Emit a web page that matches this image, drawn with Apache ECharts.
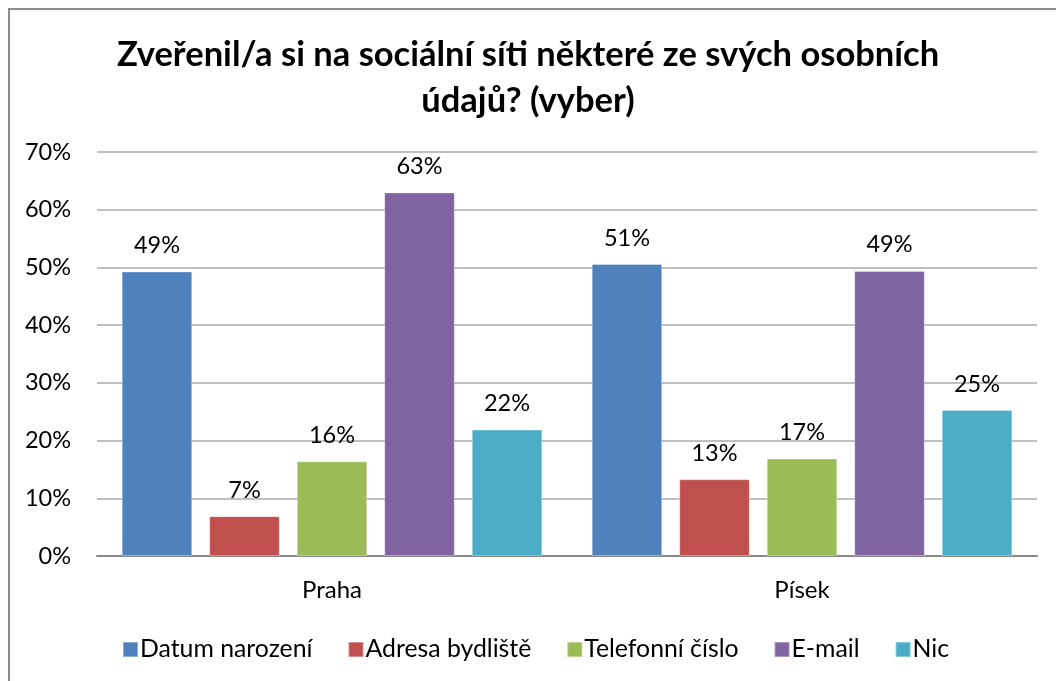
<!DOCTYPE html>
<html>
<head>
<meta charset="utf-8">
<script src="https://cdn.jsdelivr.net/npm/echarts@6/dist/echarts.min.js"></script>
<style>
  body { margin: 0; background: #fff; }
  #chart { position: absolute; left: 0; top: 0; width: 1056px; height: 681px; }
  #frame { position: absolute; left: 8px; top: 8px; width: 1100px; height: 700px;
           border-left: 2px solid #8c8c8c; border-top: 2px solid #8c8c8c; pointer-events: none; }
</style>
</head>
<body>
<div id="chart"></div>
<div id="frame"></div>
<script>
// kategorie a hodnoty (v %)
const categories = ["Praha", "Písek"];
const seriesNames = ["Datum narození", "Adresa bydliště", "Telefonní číslo", "E-mail", "Nic"];
const datumNarozeni = [49.3, 50.6];
const adresaBydliste = [6.9, 13.3];
const telefonniCislo = [16.4, 16.9];
const email = [63.0, 49.4];
const nic = [21.9, 25.3];
const yTicks = [0, 10, 20, 30, 40, 50, 60, 70];

const colors = ["#4F81BD", "#C0504D", "#9BBB59", "#8064A2", "#4BACC6"];
const font = "Lato, 'Open Sans', sans-serif";

const values = [datumNarozeni, adresaBydliste, telefonniCislo, email, nic];

const chart = echarts.init(document.getElementById("chart"));

chart.setOption({
  animation: false,
  backgroundColor: "transparent",
  color: colors,
  title: {
    text: "Zveřenil/a si na sociální síti některé ze svých osobních\núdajů? (vyber)",
    left: "center",
    top: 27,
    textStyle: {
      fontFamily: font,
      fontWeight: "bold",
      fontSize: 34.5,
      lineHeight: 46,
      color: "#000"
    }
  },
  grid: {
    left: 97,
    right: 19,
    top: 152,
    bottom: 125
  },
  legend: {
    bottom: 14,
    left: 117,
    itemWidth: 15,
    itemHeight: 15,
    itemGap: 35,
    icon: "rect",
    textStyle: { fontFamily: font, fontSize: 24.8, color: "#000", padding: [0, 0, 0, -3] },
    data: seriesNames
  },
  xAxis: {
    type: "category",
    data: categories,
    axisTick: { show: false },
    axisLine: { lineStyle: { color: "#888", width: 2 } },
    axisLabel: { fontFamily: font, fontSize: 24, color: "#000", margin: 22 }
  },
  yAxis: {
    type: "value",
    min: yTicks[0],
    max: yTicks[yTicks.length - 1],
    interval: 10,
    axisLine: { show: false },
    axisTick: { show: false },
    splitLine: { lineStyle: { color: "#c0c0c0", width: 2 } },
    axisLabel: {
      fontFamily: font,
      fontSize: 23.5,
      color: "#000",
      margin: 26,
      formatter: v => v + "%"
    }
  },
  series: seriesNames.map((name, i) => ({
    name: name,
    type: "bar",
    data: values[i],
    barGap: "24%",
    barCategoryGap: "10.5%",
    itemStyle: { borderColor: "rgba(255,255,255,0.35)", borderWidth: 1 },
    label: {
      show: true,
      position: "top",
      distance: 14,
      fontFamily: font,
      fontSize: 23.5,
      color: "#000",
      formatter: p => Math.round(p.value) + "%"
    }
  }))
});
</script>
</body>
</html>
